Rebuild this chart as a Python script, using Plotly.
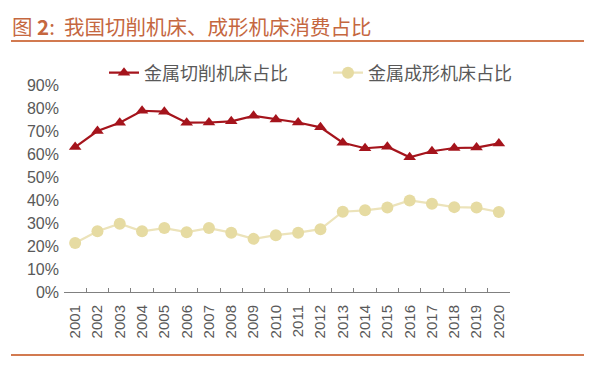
import plotly.graph_objects as go

years = [str(y) for y in range(2001, 2021)]
cutting = [0.63, 0.70, 0.736, 0.788, 0.784, 0.736, 0.737, 0.742, 0.766, 0.750,
           0.737, 0.716, 0.649, 0.625, 0.632, 0.586, 0.612, 0.626, 0.628, 0.646]
forming = [0.213, 0.264, 0.297, 0.264, 0.278, 0.260, 0.278, 0.258, 0.231, 0.247,
           0.258, 0.273, 0.349, 0.355, 0.367, 0.398, 0.384, 0.369, 0.367, 0.348]
ytick_vals = [0, 0.1, 0.2, 0.3, 0.4, 0.5, 0.6, 0.7, 0.8, 0.9]
ytick_text = ["0%", "10%", "20%", "30%", "40%", "50%", "60%", "70%", "80%", "90%"]

CJK = "Noto Sans CJK SC, sans-serif"
LAT = "Liberation Sans, Arial, sans-serif"
W, H = 597, 367
L, R, T, B = 64, 87, 85, 75
PW = W - L - R
PH = H - T - B

def px(x):
    return (x - L) / PW

def py(y):
    return (H - B - y) / PH

fig = go.Figure()
fig.add_trace(go.Scatter(
    x=years, y=cutting, name="金属切削机床占比", mode="lines+markers",
    line=dict(color="#A5141C", width=2.2),
    marker=dict(symbol="triangle-up", size=11, color="#A5141C"),
))
fig.add_trace(go.Scatter(
    x=years, y=forming, name="金属成形机床占比", mode="lines+markers",
    line=dict(color="#ECE3BA", width=2.2),
    marker=dict(symbol="circle", size=12, color="#E6DBA2"),
))

fig.update_layout(
    width=W, height=H,
    margin=dict(l=L, r=R, t=T, b=B),
    paper_bgcolor="white", plot_bgcolor="white",
    font=dict(family=LAT, color="#595959"),
    showlegend=True,
    legend=dict(orientation="h", x=px(104), y=py(73), xanchor="left", yanchor="middle",
                font=dict(size=18, color="#595959", family=CJK),
                entrywidth=179, entrywidthmode="pixels",
                bgcolor="rgba(0,0,0,0)", tracegroupgap=0),
    xaxis=dict(type="category", showgrid=False, showline=True, linecolor="#808080",
               linewidth=1, ticks="inside", tickson="boundaries", ticklen=4,
               tickcolor="#808080", tickangle=-90, tickfont=dict(size=15, color="#595959"),
               range=[-0.5, 19.5], automargin=False, ticklabelstandoff=6),
    yaxis=dict(range=[0, 0.9], tickvals=ytick_vals, ticktext=ytick_text, showgrid=False,
               zeroline=False, showline=False, tickfont=dict(size=16, color="#595959"),
               automargin=False, ticklabelstandoff=4),
    annotations=[
        dict(text="图 <b>2</b>:  我国切削机床、成形机床消费占比", xref="paper", yref="paper",
             x=px(10), y=py(26), xanchor="left", yanchor="middle", showarrow=False,
             font=dict(size=20.5, color="#C5673F", family=CJK)),
    ],
    shapes=[
        dict(type="line", xref="paper", yref="paper", x0=px(11), x1=px(584),
             y0=py(41), y1=py(41), line=dict(color="#D27A50", width=2)),
        dict(type="line", xref="paper", yref="paper", x0=px(11), x1=px(584),
             y0=py(355), y1=py(355), line=dict(color="#D27A50", width=2)),
    ],
)

fig.write_html("out.html", config={"displayModeBar": False},
               post_script="document.body.style.margin='0px';")
